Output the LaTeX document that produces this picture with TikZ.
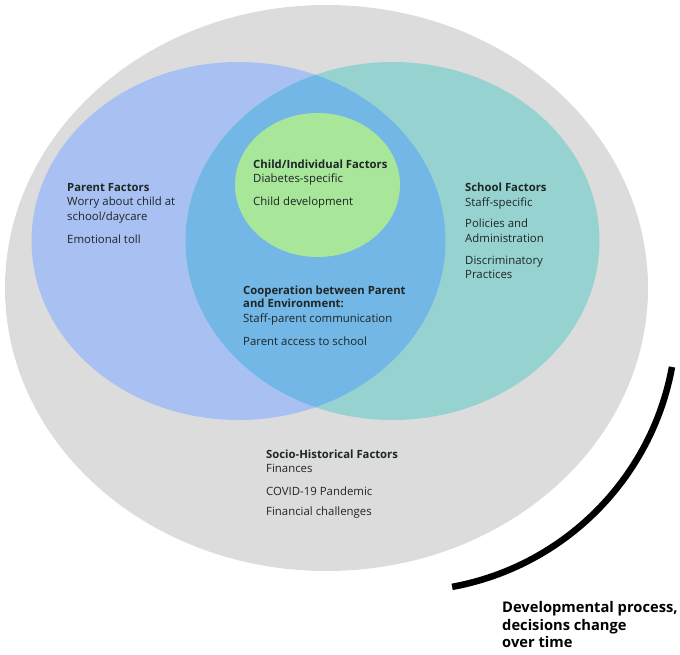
\documentclass[tikz,border=0pt]{standalone}
\usepackage{fontspec}
\setmainfont{Open Sans}
\definecolor{grayc}{HTML}{DCDCDC}
\definecolor{bluec}{HTML}{A9C1F2}
\definecolor{tealc}{HTML}{96D3D0}
\definecolor{overc}{HTML}{72B7E6}
\definecolor{greenc}{HTML}{A8E69A}
\definecolor{textc}{HTML}{1E2626}
\tikzset{
  txt/.style={anchor=base west, inner sep=0pt, text=textc, font=\fontsize{11.4}{12}\selectfont},
  hd/.style={txt, font=\fontsize{11.3}{12}\selectfont\bfseries},
  dev/.style={anchor=base west, inner sep=0pt, text=black, font=\fontsize{14.7}{16}\selectfont\bfseries}
}
\begin{document}
\begin{tikzpicture}[x=1pt,y=-1pt]
\useasboundingbox (0,0) rectangle (680,654);
% outer socio-historical ellipse
\fill[grayc] (326.5,288) ellipse [x radius=321.5pt, y radius=283pt];
% parent and school ellipses
\fill[bluec] (238.5,241) ellipse [x radius=207pt, y radius=179pt];
\fill[tealc] (392.5,241) ellipse [x radius=207pt, y radius=179pt];
\begin{scope}
  \clip (238.5,241) ellipse [x radius=207pt, y radius=179pt];
  \fill[overc] (392.5,241) ellipse [x radius=207pt, y radius=179pt];
\end{scope}
% child ellipse
\fill[greenc] (317.5,185) ellipse [x radius=82.5pt, y radius=72pt];
% developmental arc
\coordinate (arcS) at (672,367);
\draw[line width=6.5pt] (arcS) arc [start angle=10.4, end angle=79.6, radius=273.8];

% Parent factors
\node[hd]  (p1) at (67,191) {Parent Factors};
\node[txt] (p2) at (67,205) {Worry about child at};
\node[txt] (p3) at (67,220) {school/daycare};
\node[txt] (p4) at (67,243) {Emotional toll};
% Child factors
\node[hd]  (c1) at (253,168) {Child/Individual Factors};
\node[txt] (c2) at (253,182) {Diabetes-specific};
\node[txt] (c3) at (253,205) {Child development};
% School factors
\node[hd]  (s1) at (465,191) {School Factors};
\node[txt] (s2) at (465,206) {Staff-specific};
\node[txt] (s3) at (465,227) {Policies and};
\node[txt] (s4) at (465,242) {Administration};
\node[txt] (s5) at (465,264) {Discriminatory};
\node[txt] (s6) at (465,278) {Practices};
% Cooperation
\node[hd]  (o1) at (243,294) {Cooperation between Parent};
\node[hd]  (o2) at (243,307) {and Environment:};
\node[txt] (o3) at (243,322) {Staff-parent communication};
\node[txt] (o4) at (243,345) {Parent access to school};
% Socio-historical
\node[hd]  (h1) at (266,458) {Socio-Historical Factors};
\node[txt] (h2) at (266,472) {Finances};
\node[txt] (h3) at (266,495) {COVID-19 Pandemic};
\node[txt] (h4) at (266,515) {Financial challenges};
% Developmental process
\node[dev] (d1) at (502,612) {Developmental process,};
\node[dev] (d2) at (502,630) {decisions change};
\node[dev] (d3) at (502,647) {over time};
\end{tikzpicture}
\end{document}
